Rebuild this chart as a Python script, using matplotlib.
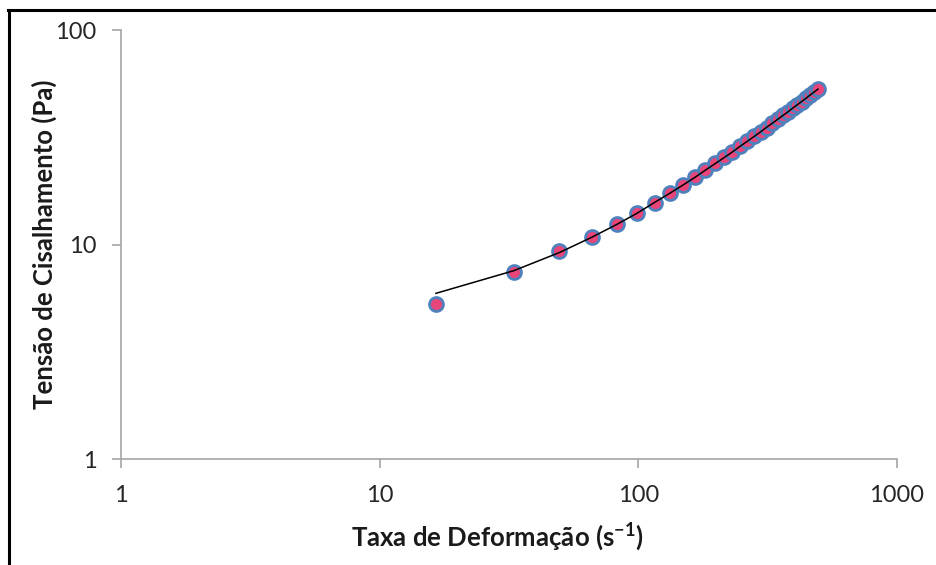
import numpy as np
import matplotlib.pyplot as plt
from matplotlib.lines import Line2D
from matplotlib.ticker import FixedLocator, NullLocator, FixedFormatter

# Shear rate (1/s) and measured shear stress (Pa)
taxa = [16.5, 33, 49.5, 66, 82.5, 99, 115.5, 132, 148.5, 165,
        181.5, 198, 214.5, 231, 247.5, 264, 280.5, 297, 313.5, 330,
        346.5, 363, 379.5, 396, 412.5, 429, 445.5, 462, 478.5, 495]
tensao = [5.28, 7.45, 9.3, 10.8, 12.4, 14.0, 15.6, 17.3, 18.9, 20.6,
          22.2, 23.9, 25.5, 27.1, 28.7, 30.4, 31.9, 33.5, 35.1, 36.7,
          38.3, 40.0, 41.6, 43.2, 44.8, 46.4, 48.0, 49.6, 51.3, 53.0]
# Fitted model values at the same shear rates
ajuste = [5.92, 7.55, 9.17, 10.8, 12.4, 14.0, 15.7, 17.3, 18.9, 20.5,
          22.2, 23.8, 25.4, 27.0, 28.7, 30.3, 31.9, 33.5, 35.2, 36.8,
          38.4, 40.0, 41.6, 43.3, 44.9, 46.5, 48.1, 49.8, 51.4, 53.0]

x_ticks = [1, 10, 100, 1000]
y_ticks = [1, 10, 100]

plt.rcParams['font.family'] = ['Lato', 'DejaVu Sans']
plt.rcParams['mathtext.fontset'] = 'custom'
plt.rcParams['mathtext.rm'] = 'Lato'
plt.rcParams['mathtext.bf'] = 'Lato:bold'

fig = plt.figure(figsize=(9.36, 5.65), dpi=100)
ax = fig.add_axes([0.1293, 0.1876, 0.829, 0.7593])

ax.plot(taxa, tensao, linestyle='none', marker='o', markersize=10,
        markerfacecolor='#E8457A', markeredgecolor='#4F81BD',
        markeredgewidth=2.0, zorder=2)
ax.plot(taxa, ajuste, color='black', linewidth=1.1, zorder=3)

ax.set_xscale('log')
ax.set_yscale('log')
ax.set_xlim(1, 1000)
ax.set_ylim(1, 100)

ax.xaxis.set_major_locator(FixedLocator(x_ticks))
ax.xaxis.set_major_formatter(FixedFormatter([str(v) for v in x_ticks]))
ax.yaxis.set_major_locator(FixedLocator(y_ticks))
ax.yaxis.set_major_formatter(FixedFormatter([str(v) for v in y_ticks]))
ax.xaxis.set_minor_locator(NullLocator())
ax.yaxis.set_minor_locator(NullLocator())

for side in ['top', 'right']:
    ax.spines[side].set_visible(False)
for side in ['left', 'bottom']:
    ax.spines[side].set_color('#A6A6A6')
    ax.spines[side].set_linewidth(1.2)

ax.tick_params(axis='both', which='major', direction='out', length=6.5,
               width=1.2, color='#A6A6A6', labelsize=17, labelcolor='#262626')
ax.tick_params(axis='x', pad=12)
ax.tick_params(axis='y', pad=11)

ax.set_xlabel(r'Taxa de Deformação (s$\mathbf{^{-1}}$)', fontsize=18.5,
              fontweight='bold', color='#1a1a1a')
ax.set_ylabel('Tensão de Cisalhamento (Pa)', fontsize=18.5, fontweight='bold',
              color='#1a1a1a')
ax.xaxis.set_label_coords(0.485, -0.145)
ax.yaxis.set_label_coords(-0.082, 0.5)

# frame lines along the left and top edges
fig.add_artist(Line2D([9 / 936, 9 / 936], [0, 1 - 10 / 565],
                      transform=fig.transFigure, color='black', linewidth=2.2))
fig.add_artist(Line2D([8 / 936, 1], [1 - 10 / 565, 1 - 10 / 565],
                      transform=fig.transFigure, color='black', linewidth=2.2))

fig.savefig('out.png', dpi=100)
